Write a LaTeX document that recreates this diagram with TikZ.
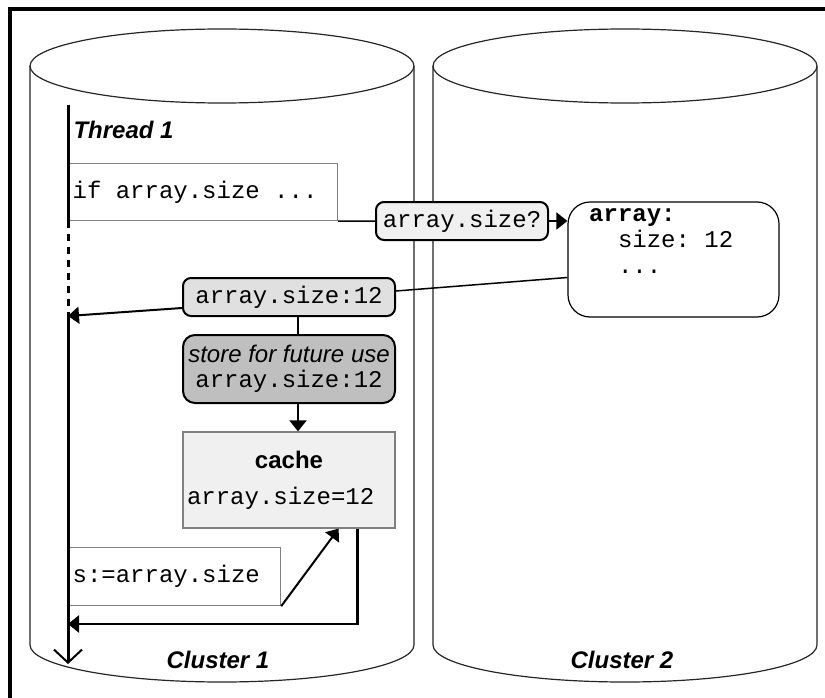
\documentclass[tikz,border=0pt]{standalone}
\usepackage{fontspec}
\setmainfont{Liberation Sans}
\setmonofont{Liberation Mono}
\usetikzlibrary{arrows.meta}
\newcommand{\monosp}{\hspace*{0.6em}}

\begin{document}
\begin{tikzpicture}[x=1pt,y=-1pt,
  font=\fontsize{24}{28}\selectfont,
  cyl/.style={draw=black!85,line width=1.2pt},
  codebox/.style={draw=gray,line width=1.2pt,fill=white,inner sep=4pt,align=left,
    font=\fontsize{24}{28}\selectfont\ttfamily},
  msg/.style={draw,line width=2pt,rounded corners=8pt,inner sep=0pt,
    minimum width=212pt,minimum height=38pt,font=\fontsize{24}{28}\selectfont\ttfamily},
  thread/.style={line width=3pt},
  head/.style={-{Triangle[length=11pt,width=17pt]}},
  lbl/.style={font=\fontsize{24}{28}\selectfont\bfseries\itshape}]
\useasboundingbox (0,0) rectangle (825,698);
\clip (0,0) rectangle (825,698);
\fill[white] (0,0) rectangle (825,698);
\draw[line width=3.5pt] (10,9) rectangle (900,760);

% the two clusters
\draw[cyl] (30,66) arc[start angle=180,end angle=-180,x radius=192,y radius=37];
\draw[cyl] (30,66) -- (30,645) arc[start angle=180,end angle=0,x radius=192,y radius=37] -- (414,66);
\draw[cyl] (433,66) arc[start angle=180,end angle=-180,x radius=192,y radius=37];
\draw[cyl] (433,66) -- (433,645) arc[start angle=180,end angle=0,x radius=192,y radius=37] -- (817,66);

\node[lbl,anchor=west] (thr) at (70,130) {Thread 1};
\node[lbl] (cl1) at (218,660) {Cluster 1};
\node[lbl] (cl2) at (622,660) {Cluster 2};

% boxes
\node[codebox,anchor=north west,text width=261pt,minimum height=57pt] (ifbox) at (68,163) {if\monosp array.size\monosp...};
\node[msg,fill=black!6,minimum width=172pt] (ask) at (462,221) {array.size?};
\node[draw,line width=1.2pt,fill=white,rounded corners=22pt,minimum width=211pt,minimum height=115pt] (array) at (673.5,259.5) {};
\node[anchor=north west,align=left,inner sep=0pt,font=\fontsize{24}{26}\selectfont\ttfamily] (arraytxt) at (589,208)
  {\textbf{array:}\\\monosp\monosp size:\monosp 12\\\monosp\monosp ...};
\node[msg,fill=black!12] (ans) at (289,297) {array.size:12};
\node[msg,fill=black!25,rounded corners=12pt,minimum height=68pt,align=center,
  font=\fontsize{24}{25}\selectfont\ttfamily] (store) at (289,369) {{\rmfamily\itshape store for future use}\\array.size:12};
\node[codebox,fill=black!6,minimum width=212pt,minimum height=96pt,inner sep=0pt,align=center] (cache) at (289,480)
  {{\rmfamily\bfseries cache}\\[8pt]\makebox[204pt][l]{array.size=12}};
\node[codebox,anchor=north west,text width=204pt,minimum height=58pt] (sbox) at (68,547) {s:=array.size};

% thread line
\coordinate (ttop) at (68,105);
\coordinate (tin1) at (68,316);
\coordinate (tin2) at (68,624);
\coordinate (tend) at (68,664);
\draw[thread] (ttop) -- (ifbox.south west);
\draw[thread,dash pattern=on 7pt off 6pt] (ifbox.south west) -- (tin1);
\draw[thread,-{Straight Barb[length=13pt,width=28pt,line width=2pt]}] (tin1) -- (tend);

% messages
\draw[line width=1.5pt] (ifbox.south east) -- (ask.west);
\draw[line width=2pt,head] (ask.east) -- (array.west |- ask.east);
\draw[line width=1.5pt] ([yshift=-18pt]array.west) -- ([yshift=6pt]ans.east);
\draw[line width=2pt,head] ([yshift=-11pt]ans.west) -- (tin1);
\draw[line width=2pt] ([xshift=9pt]ans.south) -- ([xshift=9pt]store.north);
\draw[line width=2pt,head] ([xshift=9pt]store.south) -- ([xshift=9pt]cache.north);
\draw[line width=2pt,head] (sbox.south east) -- ([xshift=-57pt]cache.south east);
\draw[line width=2.5pt,head] ([xshift=-38pt]cache.south east) |- (tin2);
\end{tikzpicture}
\end{document}
